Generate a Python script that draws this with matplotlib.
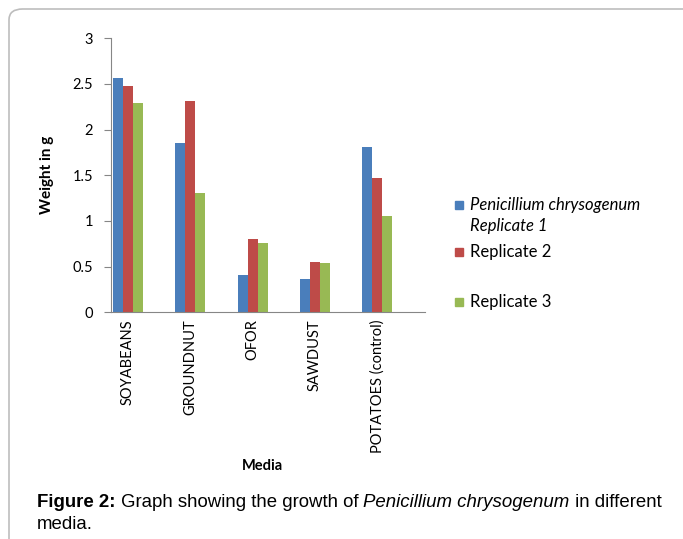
import numpy as np
import matplotlib.pyplot as plt
from matplotlib.patches import FancyBboxPatch, Rectangle

# data
media = ['SOYABEANS', 'GROUNDNUT', 'OFOR', 'SAWDUST', 'POTATOES (control)']
rep1 = [2.56, 1.85, 0.41, 0.37, 1.81]
rep2 = [2.48, 2.31, 0.80, 0.55, 1.47]
rep3 = [2.29, 1.31, 0.76, 0.54, 1.05]
series_labels = ['Replicate 1', 'Replicate 2', 'Replicate 3']
colors = ['#4A7EBB', '#BE4B48', '#98B954']
yticks = [0, 0.5, 1, 1.5, 2, 2.5, 3]

W, H = 683, 539
fig = plt.figure(figsize=(W / 100, H / 100), dpi=100)
chart_font = ['Lato', 'DejaVu Sans']
cap_font = ['Liberation Sans', 'DejaVu Sans']

# rounded frame around the figure
frame = FancyBboxPatch((9 / W, -0.05), 1.2, 1 - 9 / H + 0.05,
                       boxstyle='round,pad=0,rounding_size=0.02',
                       transform=fig.transFigure, fill=False,
                       edgecolor='#bdbdbd', linewidth=1.2)
fig.patches.append(frame)

ax = fig.add_axes([111 / W, 1 - 312.3 / H, 314 / W, 274 / H])
x = np.arange(len(media))
bw = 10 / 62.25
for i, vals in enumerate([rep1, rep2, rep3]):
    ax.bar(x + (i - 1) * bw, vals, width=bw, color=colors[i], linewidth=0)

ax.set_xlim(-0.273, 4.77)
ax.set_ylim(0, 3)
ax.set_yticks(yticks)
ax.set_yticklabels([f'{t:g}' for t in yticks], fontfamily=chart_font, fontsize=10.5)
ax.set_xticks(x)
ax.set_xticklabels(media, rotation=90, fontfamily=chart_font, fontsize=10.5)
ax.tick_params(axis='x', length=0, pad=5)
ax.tick_params(axis='y', length=5, color='#868686', pad=8)
for s in ['top', 'right']:
    ax.spines[s].set_visible(False)
for s in ['left', 'bottom']:
    ax.spines[s].set_color('#868686')
ax.set_facecolor('none')

fig.text(47 / W, 1 - 175 / H, 'Weight in g', rotation=90, ha='center', va='center',
         fontfamily=chart_font, fontsize=11, fontweight='bold')
fig.text(262 / W, 1 - 466 / H, 'Media', ha='center', va='center',
         fontfamily=chart_font, fontsize=10.5, fontweight='bold')

# legend drawn by hand to follow the uneven spacing of the original
leg_y = [205, 252, 302]
for i, yy in enumerate(leg_y):
    fig.patches.append(Rectangle((455 / W, 1 - (yy + 4) / H), 8 / W, 8 / H,
                                 transform=fig.transFigure, color=colors[i]))
fig.text(470 / W, 1 - 205 / H, 'Penicillium chrysogenum', style='italic',
         va='center', fontfamily=chart_font, fontsize=12)
fig.text(470 / W, 1 - 226 / H, series_labels[0], style='italic',
         va='center', fontfamily=chart_font, fontsize=12)
fig.text(470 / W, 1 - 252 / H, series_labels[1], va='center',
         fontfamily=chart_font, fontsize=12)
fig.text(470 / W, 1 - 302 / H, series_labels[2], va='center',
         fontfamily=chart_font, fontsize=12)

# caption with mixed bold / italic pieces
fig.canvas.draw()
r = fig.canvas.get_renderer()
pieces = [('Figure 2:', 'bold', 'normal'),
          (' Graph showing the growth of ', 'normal', 'normal'),
          ('Penicillium chrysogenum', 'normal', 'italic'),
          (' in different', 'normal', 'normal')]
xp = 37
for txt, wt, st in pieces:
    t = fig.text(xp / W, 1 - 507 / H, txt, fontfamily=cap_font, fontsize=13.4,
                 fontweight=wt, style=st, va='baseline')
    bb = t.get_window_extent(renderer=r)
    xp += bb.width
fig.text(37 / W, 1 - 529 / H, 'media.', fontfamily=cap_font, fontsize=13.4, va='baseline')

fig.savefig('out.png', dpi=100)
